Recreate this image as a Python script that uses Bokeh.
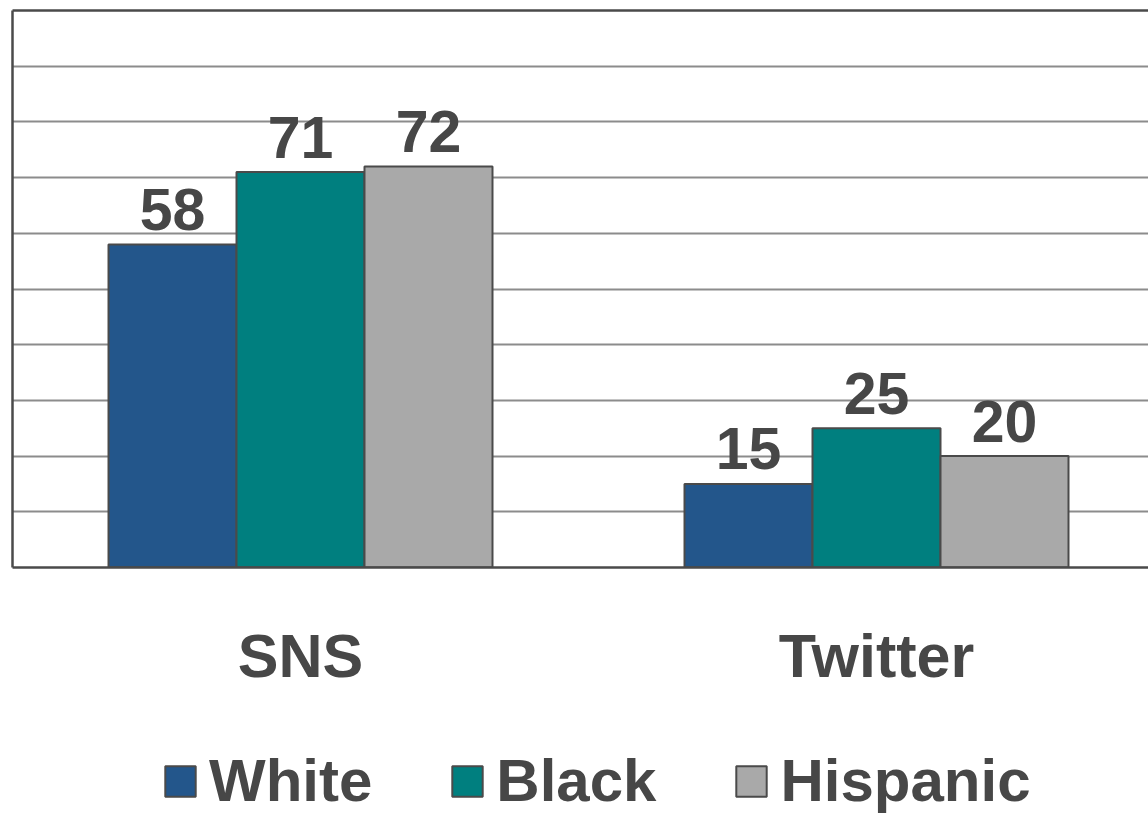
from bokeh.plotting import figure
from bokeh.layouts import column
from bokeh.models import Range1d, FixedTicker, Legend, LegendItem, LinearAxis
from bokeh.core.properties import value
from bokeh.embed import file_html
from bokeh.resources import INLINE

# ---- data ----
categories = ["SNS", "Twitter"]
groups = ["White", "Black", "Hispanic"]
white = [58, 15]
black = [71, 25]
hispanic = [72, 20]
series = [white, black, hispanic]
colors = ["#23568B", "#007F7F", "#A9A9A9"]

FONT_NAME = "Liberation Sans"
FONT = value(FONT_NAME)
TXT = "#474747"
EDGE = "#4a4a4a"

W = 1148
H_MAIN, H_LEG = 718, 96
cat_px = 576.0
frame_w = 1136.0

p = figure(width=W, height=H_MAIN, output_backend="svg", toolbar_location=None,
           x_range=Range1d(0, frame_w / cat_px), y_range=Range1d(0, 100),
           min_border_left=12, min_border_right=0, min_border_top=10,
           min_border_bottom=151)
p.background_fill_color = "white"
p.border_fill_color = "white"
p.outline_line_color = None

bw = 2.0 / 9.0
for i, (vals, col) in enumerate(zip(series, colors)):
    xs = [j + 0.5 + (i - 1) * bw for j in range(len(categories))]
    p.vbar(x=xs, top=vals, width=bw, bottom=0, fill_color=col,
           line_color=EDGE, line_width=2)
    p.text(x=xs, y=vals, text=[str(v) for v in vals], text_align="center",
           text_baseline="middle", y_offset=-35, text_font=FONT,
           text_font_style="bold", text_font_size="59px", text_color=TXT)

# grid
p.xgrid.visible = False
p.ygrid.ticker = FixedTicker(ticks=list(range(10, 100, 10)))
p.ygrid.grid_line_color = "#8c8c8c"
p.ygrid.grid_line_width = 2

# x axis with category labels
p.xaxis.ticker = FixedTicker(ticks=[j + 0.5 for j in range(len(categories))])
p.xaxis.major_label_overrides = {j + 0.5: c for j, c in enumerate(categories)}
p.xaxis.major_tick_out = 0
p.xaxis.major_tick_in = 0
p.xaxis.minor_tick_out = 0
p.xaxis.minor_tick_in = 0
p.xaxis.axis_line_color = EDGE
p.xaxis.axis_line_width = 2.5
p.xaxis.major_label_standoff = 54
p.xaxis.major_label_text_font = FONT_NAME
p.xaxis.major_label_text_font_style = "bold"
p.xaxis.major_label_text_font_size = "61px"
p.xaxis.major_label_text_color = TXT

# y axis: only the line
p.yaxis.ticker = FixedTicker(ticks=[])
p.yaxis.major_tick_out = 0
p.yaxis.minor_tick_out = 0
p.yaxis.major_label_text_font_size = "0px"
p.yaxis.major_label_standoff = 0
p.yaxis.axis_line_color = EDGE
p.yaxis.axis_line_width = 2.5

top = LinearAxis(ticker=FixedTicker(ticks=[]), major_tick_out=0, minor_tick_out=0,
                 major_label_text_font_size="0px", major_label_standoff=0,
                 axis_line_color=EDGE, axis_line_width=2.5)
p.add_layout(top, "above")

# ---- legend strip ----
p2 = figure(width=W, height=H_LEG, output_backend="svg", toolbar_location=None,
            x_range=Range1d(0, 1), y_range=Range1d(0, 1),
            x_axis_location=None, y_axis_location=None,
            min_border_left=0, min_border_right=0, min_border_top=0,
            min_border_bottom=0)
p2.outline_line_color = None
p2.grid.visible = False
p2.background_fill_color = "white"
p2.border_fill_color = "white"

# legend swatches: one non-drawn (NaN) bar per group, used only for the key
nan = float("nan")
leg_r = []
for col in colors:
    leg_r.append(p2.vbar(x=[0.5], top=[nan], bottom=[nan], width=0.1, fill_color=col,
                         line_color=EDGE, line_width=2))

legend = Legend(items=[LegendItem(label=g, renderers=[r]) for g, r in zip(groups, leg_r)],
                orientation="horizontal", location=(149, -1),
                label_text_font=FONT_NAME, label_text_font_style="bold",
                label_text_font_size="60px", label_text_color=TXT,
                glyph_width=38, glyph_height=38, label_standoff=10, spacing=76,
                border_line_color=None, background_fill_alpha=0,
                margin=0, padding=0)
p2.add_layout(legend, "center")

layout = column(p, p2, spacing=0)
open("out.html", "w").write(file_html(layout, INLINE))
